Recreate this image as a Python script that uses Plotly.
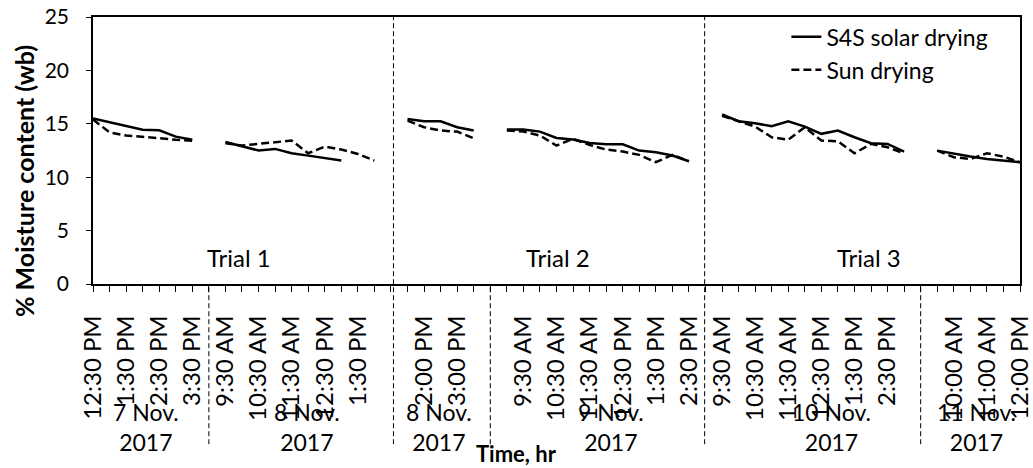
import plotly.graph_objects as go

# ---- data -------------------------------------------------------------
# one entry per half-hour category ('' = spacer category between days)
times = (
    ["12:30 PM", "1:00 PM", "1:30 PM", "2:00 PM", "2:30 PM", "3:00 PM", "3:30 PM"] + [""] +
    ["9:30 AM", "10:00 AM", "10:30 AM", "11:00 AM", "11:30 AM", "12:00 PM", "12:30 PM",
     "1:00 PM", "1:30 PM", "2:00 PM"] + [""] +
    ["1:30 PM", "2:00 PM", "2:30 PM", "3:00 PM", "3:30 PM"] + [""] +
    ["9:00 AM", "9:30 AM", "10:00 AM", "10:30 AM", "11:00 AM", "11:30 AM", "12:00 PM",
     "12:30 PM", "1:00 PM", "1:30 PM", "2:00 PM", "2:30 PM"] + [""] +
    ["9:30 AM", "10:00 AM", "10:30 AM", "11:00 AM", "11:30 AM", "12:00 PM", "12:30 PM",
     "1:00 PM", "1:30 PM", "2:00 PM", "2:30 PM", "3:00 PM"] + [""] +
    ["9:30 AM", "10:00 AM", "10:30 AM", "11:00 AM", "11:30 AM", "12:00 PM"]
)

N = None
solar = (
    [15.5, 15.15, 14.85, 14.45, 14.4, 13.8, 13.5] + [N] +
    [13.3, 12.87, 12.5, 12.65, 12.24, 12.02, 11.77, 11.56, N, N] + [N] +
    [15.46, 15.24, 15.24, 14.68, 14.37] + [N] +
    [14.46, 14.46, 14.27, 13.68, 13.53, 13.21, 13.08, 13.08, 12.49, 12.33, 12.03, 11.49] + [N] +
    [15.87, 15.24, 15.05, 14.77, 15.24, 14.74, 14.06, 14.37, 13.74, 13.18, 13.12, 12.4] + [N] +
    [12.49, 12.18, 11.93, 11.71, 11.56, 11.4]
)

sun = (
    [15.4, 14.2, 13.9, 13.8, 13.65, 13.5, 13.4] + [N] +
    [13.18, 12.96, 13.12, 13.27, 13.43, 12.24, 12.87, 12.59, 12.18, 11.56] + [N] +
    [15.3, 14.68, 14.37, 14.27, 13.65] + [N] +
    [14.37, 14.27, 13.9, 12.96, 13.59, 13.02, 12.59, 12.4, 12.09, 11.4, 12.09, 11.49] + [N] +
    [15.74, 15.24, 14.74, 13.74, 13.5, 14.68, 13.43, 13.37, 12.24, 13.12, 12.8, 12.24] + [N] +
    [12.49, 11.87, 11.71, 12.24, 11.93, 11.4]
)

day_labels = ["7 Nov.", "8 Nov.", "8 Nov.", "9 Nov.", "10 Nov.", "11 Nov."]
day_year = "2017"
day_centers = [3.2, 12.9, 20.9, 31.3, 44.6, 53.4]
day_breaks = [7, 24, 50]
trial_labels = ["Trial 1", "Trial 2", "Trial 3"]
trial_centers = [8.8, 28.1, 46.9]
trial_breaks = [18.15, 36.95]

y_ticks = [0, 5, 10, 15, 20, 25]

# ---- figure -----------------------------------------------------------
FONT = "Lato, 'Open Sans', sans-serif"
x = list(range(len(times)))
ticktext = [t if i % 2 == 0 else "" for i, t in enumerate(times)]

fig = go.Figure()
fig.add_trace(go.Scatter(x=x, y=solar, mode="lines", name="S4S solar drying",
                         line=dict(color="black", width=2.5), connectgaps=False))
fig.add_trace(go.Scatter(x=x, y=sun, mode="lines", name="Sun drying",
                         line=dict(color="black", width=2.5, dash="8px,4px"),
                         connectgaps=False))

shapes = []
for b in trial_breaks:
    shapes.append(dict(type="line", xref="x", yref="paper", x0=b, x1=b, y0=-0.6, y1=1,
                       line=dict(color="black", width=1, dash="5px,3px")))
for b in day_breaks:
    shapes.append(dict(type="line", xref="x", yref="paper", x0=b, x1=b, y0=-0.6, y1=0,
                       line=dict(color="black", width=1, dash="5px,3px")))

annotations = []
for lab, c in zip(trial_labels, trial_centers):
    annotations.append(dict(x=c, y=2.5, xref="x", yref="y", text=lab, showarrow=False,
                            font=dict(family=FONT, size=24, color="black")))
for lab, c in zip(day_labels, day_centers):
    annotations.append(dict(x=c, y=-0.534, xref="x", yref="paper",
                            text=lab + "<br>" + day_year, showarrow=False,
                            yanchor="middle",
                            font=dict(family=FONT, size=23, color="black")))
annotations.append(dict(x=0.457, y=-0.633, xref="paper", yref="paper",
                        xanchor="center", yanchor="middle", text="<b>Time, hr</b>",
                        showarrow=False, font=dict(family=FONT, size=22, color="black")))
annotations.append(dict(x=-0.0744, y=0.386, xref="paper", yref="paper",
                        xanchor="center", yanchor="middle", textangle=-90,
                        text="<b>% Moisture content (wb)</b>",
                        showarrow=False, font=dict(family=FONT, size=25, color="black")))

fig.update_layout(
    width=1033, height=468,
    margin=dict(l=93, r=13, t=17, b=184, autoexpand=False),
    paper_bgcolor="white", plot_bgcolor="white",
    font=dict(family=FONT, color="black"),
    showlegend=True,
    legend=dict(x=0.748, y=1.006, xanchor="left", yanchor="top",
                bgcolor="rgba(0,0,0,0)", font=dict(family=FONT, size=23, color="black"),
                tracegroupgap=0),
    shapes=shapes, annotations=annotations,
)
fig.update_xaxes(
    range=[0, len(times) - 1], tickmode="array", tickvals=x, ticktext=ticktext,
    tickangle=-90, ticks="outside", ticklen=6, tickwidth=1, tickcolor="black",
    showline=True, linecolor="black", linewidth=1.5, mirror=True,
    showgrid=False, zeroline=False, automargin=False, ticklabelstandoff=14,
    tickfont=dict(family=FONT, size=24, color="black"),
)
fig.update_yaxes(
    range=[0, 25], tickmode="array", tickvals=y_ticks,
    ticks="outside", ticklen=5, tickwidth=1, tickcolor="black",
    showline=True, linecolor="black", linewidth=1.5, mirror=True,
    showgrid=False, zeroline=False, automargin=False, ticklabelstandoff=13,
    tickfont=dict(family=FONT, size=21, color="black"),
)

fig.write_html("out.html")
